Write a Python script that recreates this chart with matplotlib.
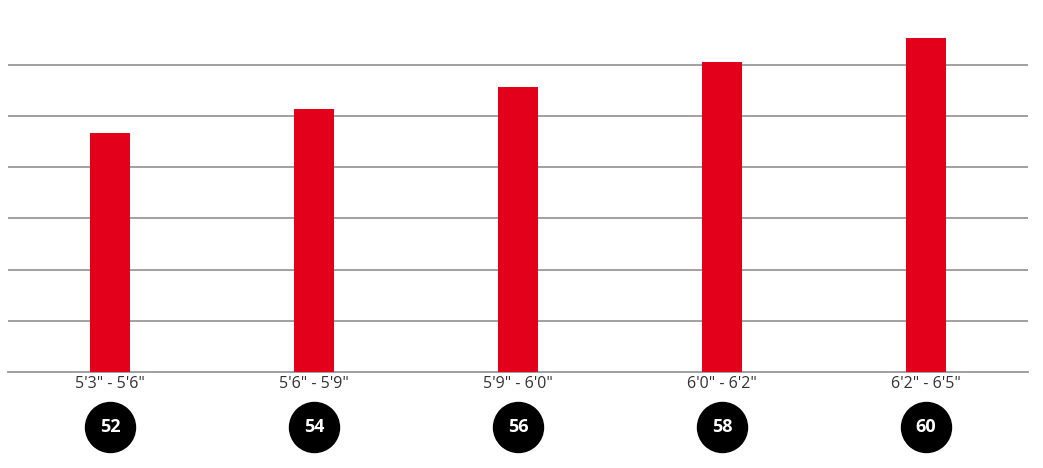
import matplotlib
matplotlib.use("Agg")
import matplotlib.pyplot as plt
import matplotlib.transforms as mtransforms
import numpy as np

plt.rcParams['font.family'] = ['Open Sans', 'DejaVu Sans']

# data
height_ranges = ['5\'3" - 5\'6"', '5\'6" - 5\'9"', '5\'9" - 6\'0"', '6\'0" - 6\'2"', '6\'2" - 6\'5"']
frame_sizes = ['52', '54', '56', '58', '60']
bar_values = [4.67, 5.14, 5.57, 6.05, 6.52]

W, H = 1043, 468
fig = plt.figure(figsize=(W / 100, H / 100), dpi=100)
px = 51.2  # pixels per unit
ymax = 7.0
ax = fig.add_axes([8 / W, (H - 372) / H, 1020 / W, ymax * px / H])

x = np.arange(len(height_ranges))
ax.bar(x, bar_values, width=40 / 204, color='#e2001a', zorder=3)

ax.set_xlim(-0.5, len(x) - 0.5)
ax.set_ylim(0, ymax)
ax.set_yticks(np.arange(1, 7))
ax.yaxis.grid(True, color='#999999', linewidth=1.3)
ax.tick_params(left=False, bottom=False, labelleft=False, labelbottom=False)
for s in ['top', 'right', 'left']:
    ax.spines[s].set_visible(False)
ax.spines['bottom'].set_color('#999999')
ax.spines['bottom'].set_linewidth(1.3)

trans = mtransforms.blended_transform_factory(ax.transData, ax.transAxes)
ah = ymax * px
for i, (lab, size) in enumerate(zip(height_ranges, frame_sizes)):
    ax.text(i, -12 / ah, lab, transform=trans, ha='center', va='center',
            fontsize=11.5, color='#333333')
    ax.scatter([i], [-55 / ah], s=1296, color='black', transform=trans,
               clip_on=False, zorder=4)
    ax.text(i, -55 / ah, size, transform=trans, ha='center', va='center',
            fontsize=13, fontweight='bold', color='white', zorder=5)

fig.savefig('out.png', dpi=100)
